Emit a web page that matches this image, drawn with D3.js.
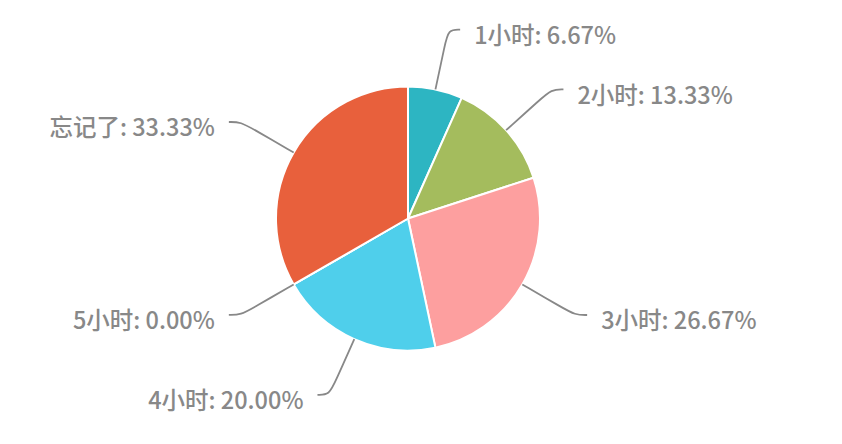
<!DOCTYPE html>
<html>
<head>
<meta charset="utf-8">
<script src="https://cdn.jsdelivr.net/npm/d3@7"></script>
<style>
    html, body { margin: 0; padding: 0; background: #fff; }
    svg { display: block; }
</style>
</head>
<body>
<svg id="chart" width="842" height="444"></svg>
<script>
const categories = ["1小时", "2小时", "3小时", "4小时", "5小时", "忘记了"]
const percents = [6.67, 13.33, 26.67, 20.00, 0.00, 33.33]
const colors = ["#2db5c2", "#a4bc5d", "#fd9f9f", "#4fcfeb", "#8d98b3", "#e8603c"]

const width = 842
const height = 444
const cx = 408
const cy = 218.5
const radius = 132
const lineRadius = 193   // bend point of the label line
const lineTail = 12      // horizontal part of the label line
const textGap = 14

const svg = d3.select("#chart")
const data = categories.map((c, i) => ({ name: c, value: percents[i], color: colors[i] }))

const pie = d3.pie().sort(null).value(d => d.value)
const arcs = pie(data)
const arc = d3.arc().innerRadius(0).outerRadius(radius)

const g = svg.append("g").attr("transform", `translate(${cx}, ${cy})`)

g.selectAll("path.slice")
    .data(arcs)
    .join("path")
    .attr("class", "slice")
    .attr("d", arc)
    .attr("fill", d => d.data.color)
    .attr("stroke", "#fff")
    .attr("stroke-width", 2)
    .attr("stroke-linejoin", "round")

const pointAt = (a, r) => [Math.sin(a) * r, -Math.cos(a) * r]
const line = d3.line().curve(d3.curveBasis)

const labels = arcs.map(d => {
    const mid = (d.startAngle + d.endAngle) / 2
    const side = Math.sin(mid) >= 0 ? 1 : -1
    const p0 = pointAt(mid, radius)
    const p1 = pointAt(mid, lineRadius)
    const pa = [p0[0] + (p1[0] - p0[0]) * 0.75, p0[1] + (p1[1] - p0[1]) * 0.75]
    const p2 = [p1[0] + side * lineTail, p1[1]]
    return { d, side, points: [p0, pa, p1, p2], end: p2 }
})

g.selectAll("path.leader")
    .data(labels)
    .join("path")
    .attr("class", "leader")
    .attr("d", l => line(l.points))
    .attr("fill", "none")
    .attr("stroke", "#888")
    .attr("stroke-width", 1.8)

g.selectAll("text.label")
    .data(labels)
    .join("text")
    .attr("class", "label")
    .attr("x", l => l.end[0] + l.side * textGap)
    .attr("y", l => l.end[1] + 6)
    .attr("dy", "0.35em")
    .attr("text-anchor", l => l.side > 0 ? "start" : "end")
    .attr("fill", "#888")
    .style("font-family", "'Noto Sans CJK SC', 'Noto Sans', sans-serif")
    .style("font-size", "23.5px")
    .style("font-weight", 500)
    .text(l => `${l.d.data.name}: ${l.d.data.value.toFixed(2)}%`)
</script>
</body>
</html>
